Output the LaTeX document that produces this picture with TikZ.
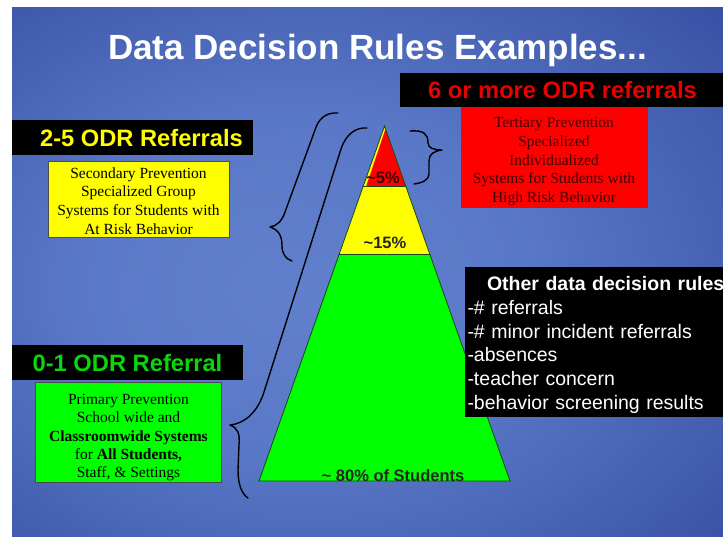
\documentclass[tikz,border=0pt]{standalone}
\usepackage{fontspec}
\setmainfont{Liberation Sans}
\newfontfamily\boxfont{Liberation Serif}
\usetikzlibrary{positioning,calc}

\definecolor{tiergreen}{RGB}{0,255,0}
\definecolor{tieryellow}{RGB}{255,255,0}
\definecolor{tierred}{RGB}{255,0,0}
\definecolor{headred}{RGB}{235,0,0}
\definecolor{headgreen}{RGB}{10,215,10}
\definecolor{tiertext}{RGB}{65,0,0}
\definecolor{edgegreen}{RGB}{25,70,25}
\pgfdeclareradialshading{slidebg}{\pgfpoint{-6bp}{-2bp}}{rgb(0bp)=(0.38,0.50,0.80); rgb(16bp)=(0.35,0.47,0.78); rgb(42bp)=(0.20,0.29,0.62); rgb(72bp)=(0.06,0.12,0.40)}

\begin{document}
\begin{tikzpicture}[x=1pt, y=-1pt]

  % Styles
  \tikzset{
    slidetitle/.style={text=white, inner sep=0pt, font=\fontsize{35}{40}\selectfont\bfseries},
    banner/.style={fill=black, inner sep=0pt},
    bannertext/.style={inner sep=0pt, font=\fontsize{23.7}{28}\selectfont\bfseries},
    tierbox/.style={draw=black!70, line width=0.8pt, align=center, inner sep=0pt,
      font=\boxfont\fontsize{15.5}{18.6}\selectfont},
    pct/.style={inner sep=0pt, text=black!85, font=\fontsize{16.5}{19}\selectfont\bfseries},
    rulesbox/.style={fill=black, text=white, align=left, inner xsep=2.5pt, text width=253pt,
      minimum height=150pt, font=\fontsize{19.5}{23.8}\selectfont},
    bracket/.style={line width=1.4pt, line cap=round, line join=round}
  }

  \useasboundingbox (0,0) rectangle (723,536);

  % Slide background
  \shade[shading=slidebg] (12,7) rectangle (723,536);

  % Title
  \node[slidetitle] (title) at (377.5,50) {Data Decision Rules Examples...};

  % Pyramid: green base, yellow middle, red top
  \coordinate (apex) at (384.5,126);
  \coordinate (baseL) at (259,481);
  \coordinate (baseR) at (510,481);
  \coordinate (redL) at ($(apex)!0.169!(baseL)$);
  \coordinate (redR) at ($(apex)!0.169!(baseR)$);
  \coordinate (yelL) at ($(apex)!0.3606!(baseL)$);
  \coordinate (yelR) at ($(apex)!0.3606!(baseR)$);

  \fill[tiergreen] (apex) -- (baseR) -- (baseL) -- cycle;
  \fill[tieryellow] (apex) -- (yelR) -- (yelL) -- cycle;
  \fill[tierred] ($(apex)+(1,3)$) -- (redR) -- ($(redL)+(3,0)$) -- cycle;
  \draw[edgegreen, line width=0.8pt] (apex) -- (baseR) -- (baseL) -- cycle;
  \draw[edgegreen, line width=0.8pt] (redL) -- (redR);
  \draw[edgegreen, line width=0.8pt] (yelL) -- (yelR);

  \node[pct, text=tiertext] (p5) at (383,178) {\textasciitilde5\%};
  \node[pct] (p15) at (385,243) {\textasciitilde15\%};
  \node[pct] (p80) at (393,476) {\textasciitilde{} 80\% of Students};

  % Tertiary tier (top right)
  \node[banner, minimum width=323pt, minimum height=34pt] (bar6) at (561.5,90) {};
  \node[bannertext, text=headred] (head6) at (562.5,90.5) {6 or more ODR referrals};
  \node[tierbox, fill=tierred, text=tiertext, minimum width=186pt, minimum height=100pt,
    below=0pt of bar6, xshift=-7.5pt] (tertiary)
    {\rule{0pt}{18.5pt}Tertiary Prevention\\Specialized\\Individualized\\Systems for Students with\\High Risk Behavior};

  % Secondary tier (upper left)
  \node[banner, minimum width=241pt, minimum height=35pt] (bar25) at (132.5,137.5) {};
  \node[bannertext, text=tieryellow] (head25) at (141.5,138) {2-5 ODR Referrals};
  \node[tierbox, fill=tieryellow, minimum width=181pt, minimum height=76pt,
    below=5.5pt of bar25, xshift=6pt] (secondary)
    {\rule{0pt}{14.5pt}Secondary Prevention\\Specialized Group\\Systems for Students with\\At Risk Behavior};

  % Primary tier (lower left)
  \node[banner, minimum width=231pt, minimum height=35pt] (bar01) at (127.5,362.5) {};
  \node[bannertext, text=headgreen] (head01) at (127.5,363) {0-1 ODR Referral};
  \node[tierbox, fill=tiergreen, minimum width=186pt, minimum height=100pt,
    below=2pt of bar01, xshift=1pt, font=\boxfont\fontsize{15.5}{18.3}\selectfont] (primary)
    {\rule{0pt}{20.5pt}Primary Prevention\\School wide and\\\textbf{Classroomwide Systems}\\for \textbf{All Students,}\\Staff, \& Settings};

  % Other rules
  \node[rulesbox] (rules) at (594,342)
    {\mbox{\hspace*{19.5pt}\rule{0pt}{20pt}\textbf{Other data decision rules}}\\-\# referrals\\-\# minor incident referrals\\-absences\\-teacher concern\\-behavior screening results};

  % Braces
  \draw[bracket] (410,131) .. controls (424,130) and (428,134) .. (428,143)
    .. controls (428,148) and (434,150) .. (442,150)
    .. controls (434,151) and (429,154) .. (429,161) -- (429,174)
    .. controls (429,180) and (422,183) .. (414,184);
  \draw[bracket] (338,113) .. controls (325,112) and (318,120) .. (315,130) -- (285,212)
    .. controls (282,221) and (277,226) .. (270,227)
    .. controls (279,230) and (282,236) .. (282,246)
    .. controls (282,254) and (286,259) .. (292,261);
  \draw[bracket] (367,128) .. controls (356,127) and (346,134) .. (341,149) -- (264,392)
    .. controls (259,408) and (248,423) .. (230,425)
    .. controls (238,428) and (240,434) .. (239,445) -- (238,470)
    .. controls (238,485) and (242,494) .. (248,498);

\end{tikzpicture}
\end{document}
